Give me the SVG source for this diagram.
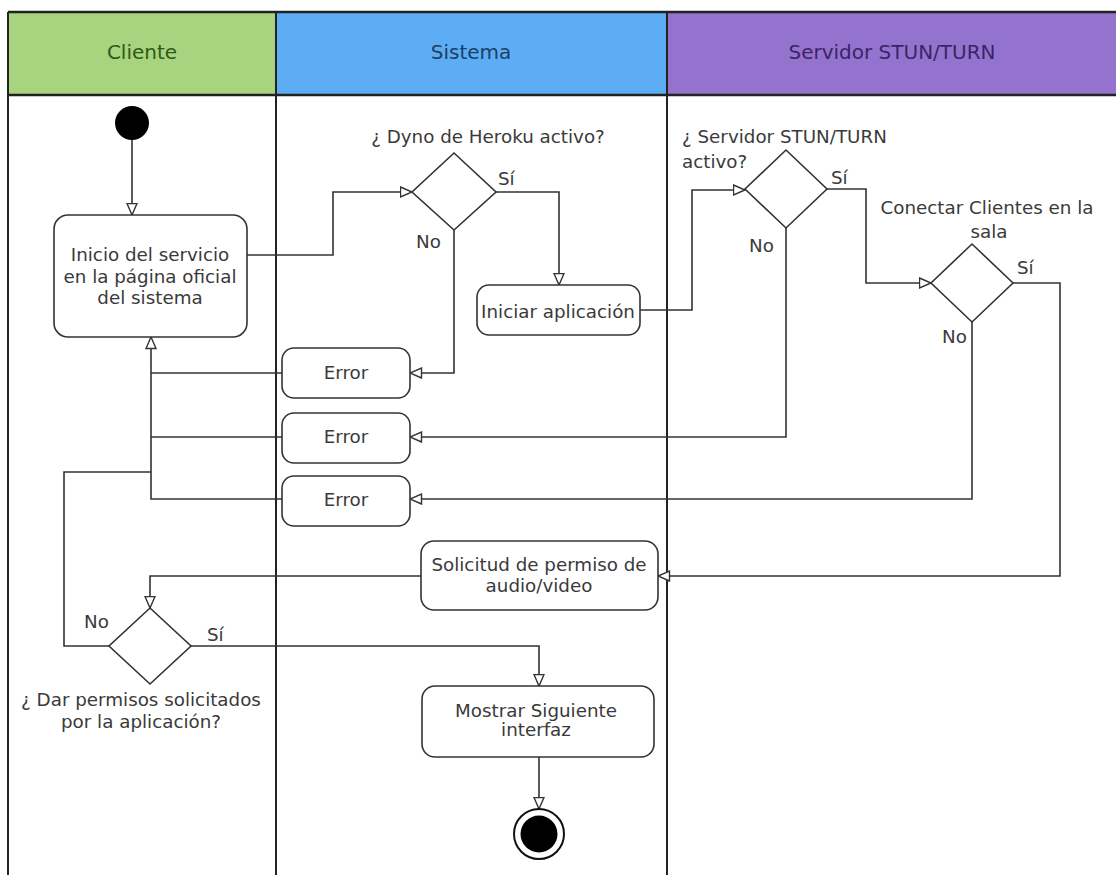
<svg xmlns="http://www.w3.org/2000/svg" width="1116" height="875" viewBox="0 0 1116 875">
  <style>
    .lane { fill: none; stroke: #222; stroke-width: 2; }
    .hdr-line { stroke: #222; stroke-width: 2.5; }
    .hdr { font-family: "DejaVu Sans", "Liberation Sans", sans-serif; font-size: 20px; text-anchor: middle; }
    .box { fill: #fff; stroke: #333; stroke-width: 1.6; }
    .dec { fill: #fff; stroke: #333; stroke-width: 1.6; }
    .t { font-family: "DejaVu Sans", "Liberation Sans", sans-serif; font-size: 18.3px; fill: #3a3a3a; }
    .c { text-anchor: middle; }
    .conn path { fill: none; stroke: #333; stroke-width: 1.6; }
    .arr { marker-end: url(#arrow); }
  </style>
  <defs>
    <marker id="arrow" markerUnits="userSpaceOnUse" markerWidth="14" markerHeight="12" refX="12.5" refY="6" orient="auto">
      <path d="M1,1 L12.5,6 L1,11 Z" fill="#fff" stroke="#333" stroke-width="1.4"/>
    </marker>
  </defs>

  <rect width="1116" height="875" fill="#fff"/>

  <!-- swimlane pool -->
  <g id="pool">
    <rect x="8" y="12" width="268" height="83" fill="#a8d37f"/>
    <rect x="276" y="12" width="391" height="83" fill="#5cadf3"/>
    <rect x="667" y="12" width="449" height="83" fill="#9473cf"/>
    <line class="hdr-line" x1="8" y1="12" x2="1116" y2="12"/>
    <line class="hdr-line" x1="8" y1="95" x2="1116" y2="95"/>
    <line class="lane" x1="8" y1="12" x2="8" y2="875"/>
    <line class="lane" x1="276" y1="12" x2="276" y2="875"/>
    <line class="lane" x1="667" y1="12" x2="667" y2="875"/>
    <text class="hdr" x="142" y="59" fill="#2d5a17">Cliente</text>
    <text class="hdr" x="471" y="59" fill="#1c3f66">Sistema</text>
    <text class="hdr" x="892" y="59" fill="#3b2466">Servidor STUN/TURN</text>
  </g>

  <!-- connectors -->
  <g id="connectors" class="conn">
    <path class="arr" d="M132,140 L132,215"/>
    <path class="arr" d="M247,255 L333,255 L333,192 L412,192"/>
    <path class="arr" d="M496,192 L559,192 L559,285"/>
    <path class="arr" d="M640,310 L692,310 L692,190 L745,190"/>
    <path class="arr" d="M827,189 L866,189 L866,283 L931,283"/>
    <path class="arr" d="M1013,283 L1060,283 L1060,576 L658,576"/>
    <path class="arr" d="M454,230 L454,373 L410,373"/>
    <path class="arr" d="M786,228 L786,437 L410,437"/>
    <path class="arr" d="M972,322 L972,499 L410,499"/>
    <path d="M282,373 L151,373"/>
    <path d="M282,437 L151,437"/>
    <path class="arr" d="M282,499 L151,499 L151,337"/>
    <path d="M109,646 L64,646 L64,472 L151,472"/>
    <path class="arr" d="M421,576 L150,576 L150,608"/>
    <path class="arr" d="M191,646 L539,646 L539,686"/>
    <path class="arr" d="M539,757 L539,809"/>
  </g>

  <!-- nodes -->
  <g id="start">
    <circle cx="132" cy="123" r="17" fill="#000"/>
  </g>

  <g id="inicio">
    <rect class="box" x="54" y="215" width="193" height="122" rx="14"/>
    <text class="t c" x="150" y="261">Inicio del servicio</text>
    <text class="t c" x="150" y="283">en la página oficial</text>
    <text class="t c" x="150" y="304">del sistema</text>
  </g>

  <g id="dyno">
    <polygon class="dec" points="454,153 496,192 454,230 412,192"/>
    <text class="t c" x="488" y="143">¿ Dyno de Heroku activo?</text>
    <text class="t" x="498" y="185">Sí</text>
    <text class="t" x="416" y="248">No</text>
  </g>

  <g id="iniciar">
    <rect class="box" x="477" y="285" width="163" height="50" rx="12"/>
    <text class="t c" x="558" y="318">Iniciar aplicación</text>
  </g>

  <g id="stun">
    <polygon class="dec" points="786,150 827,189 786,228 745,189"/>
    <text class="t" x="682" y="143">¿ Servidor STUN/TURN</text>
    <text class="t" x="682" y="168">activo?</text>
    <text class="t" x="831" y="184">Sí</text>
    <text class="t" x="749" y="252">No</text>
  </g>

  <g id="conectar">
    <polygon class="dec" points="972,244 1013,283 972,322 931,283"/>
    <text class="t c" x="987" y="214">Conectar Clientes en la</text>
    <text class="t c" x="989" y="238">sala</text>
    <text class="t" x="1017" y="274">Sí</text>
    <text class="t" x="942" y="343">No</text>
  </g>

  <g id="error1">
    <rect class="box" x="282" y="348" width="128" height="50" rx="12"/>
    <text class="t c" x="346" y="379">Error</text>
  </g>
  <g id="error2">
    <rect class="box" x="282" y="413" width="128" height="50" rx="12"/>
    <text class="t c" x="346" y="443">Error</text>
  </g>
  <g id="error3">
    <rect class="box" x="282" y="476" width="128" height="50" rx="12"/>
    <text class="t c" x="346" y="506">Error</text>
  </g>

  <g id="solicitud">
    <rect class="box" x="421" y="541" width="237" height="69" rx="13"/>
    <text class="t c" x="539" y="571">Solicitud de permiso de</text>
    <text class="t c" x="539" y="592">audio/video</text>
  </g>

  <g id="permisos">
    <polygon class="dec" points="150,608 191,646 150,684 109,646"/>
    <text class="t" x="84" y="628">No</text>
    <text class="t" x="207" y="641">Sí</text>
    <text class="t c" x="141" y="706">¿ Dar permisos solicitados</text>
    <text class="t c" x="141" y="728">por la aplicación?</text>
  </g>

  <g id="mostrar">
    <rect class="box" x="422" y="686" width="232" height="71" rx="13"/>
    <text class="t c" x="536" y="717">Mostrar Siguiente</text>
    <text class="t c" x="536" y="736">interfaz</text>
  </g>

  <g id="end">
    <circle cx="539" cy="834" r="25" fill="#fff" stroke="#111" stroke-width="2"/>
    <circle cx="539" cy="834" r="18.5" fill="#000"/>
  </g>
</svg>
